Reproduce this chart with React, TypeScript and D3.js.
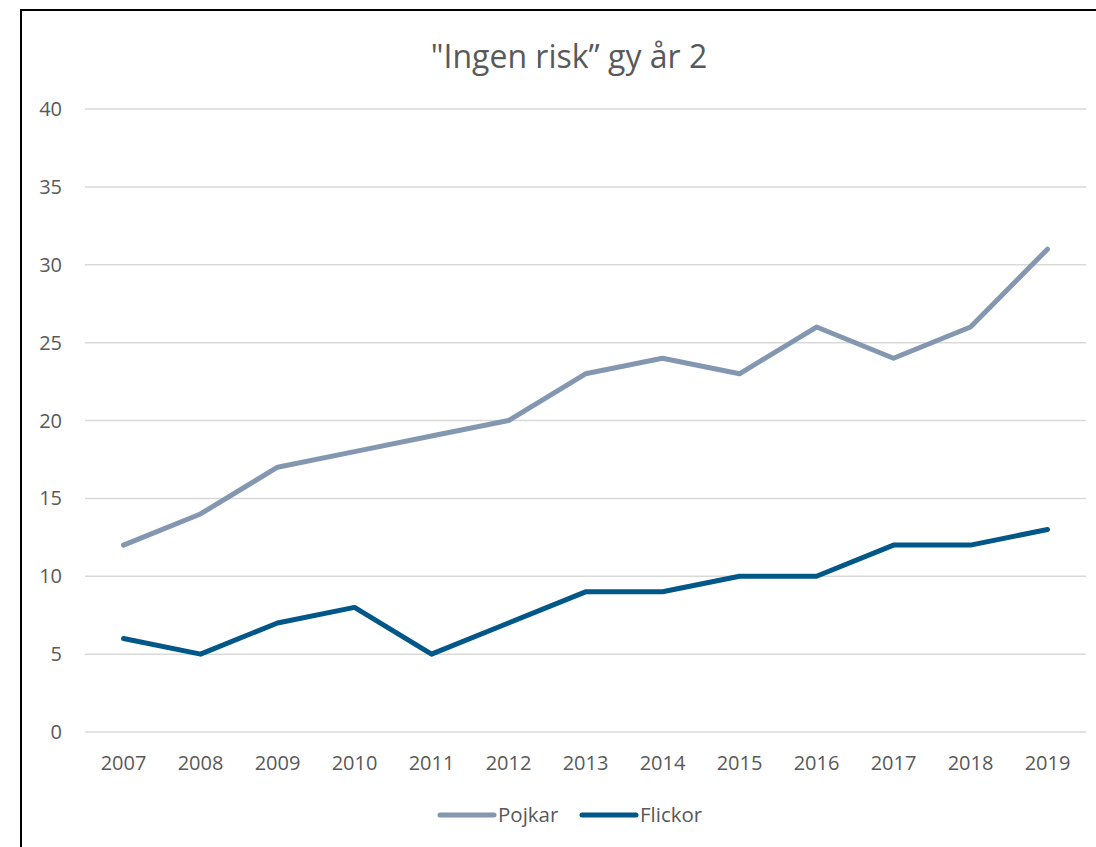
import React from "react";
import * as d3 from "d3";

const years = ["2007","2008","2009","2010","2011","2012","2013","2014","2015","2016","2017","2018","2019"];
const pojkar = [12,14,17,18,19,20,23,24,23,26,24,26,31];
const flickor = [6,5,7,8,5,7,9,9,10,10,12,12,13];
const yTicks = [0,5,10,15,20,25,30,35,40];
const seriesNames = ["Pojkar","Flickor"];
const seriesColors = ["#8497b0","#005788"];

const W = 1096, H = 847;
const left = 85, right = 1086, top = 109, bottom = 732;
const font = "'Open Sans', sans-serif";

export default function App() {
  const x = d3.scaleBand<string>().domain(years).range([left, right]);
  const y = d3.scaleLinear().domain([0, 40]).range([bottom, top]);
  const line = d3.line<number>()
    .x((_, i) => (x(years[i]) as number) + x.bandwidth() / 2)
    .y((d) => y(d));
  const series = [pojkar, flickor];
  const legendX = [440, 582];
  return (
    <svg width={W} height={H} style={{ position: "absolute", left: 0, top: 0, background: "#fff" }}>
      <rect x={21} y={10} width={1100} height={850} fill="#fff" stroke="#000" strokeWidth={2} />
      <text x={569} y={68} textAnchor="middle" fontFamily={font} fontSize={32} fill="#595959">"Ingen risk” gy år 2</text>
      {yTicks.map((t) => (
        <g key={t}>
          <line x1={left} x2={right} y1={y(t)} y2={y(t)} stroke="#d9d9d9" strokeWidth={1.5} />
          <text x={62} y={y(t) + 7} textAnchor="end" fontFamily={font} fontSize={20} fill="#595959">{t}</text>
        </g>
      ))}
      {years.map((yr) => (
        <text key={yr} x={(x(yr) as number) + x.bandwidth() / 2} y={770} textAnchor="middle" fontFamily={font} fontSize={20} fill="#595959">{yr}</text>
      ))}
      {series.map((s, i) => (
        <path key={i} d={line(s) || ""} fill="none" stroke={seriesColors[i]} strokeWidth={5} strokeLinecap="round" strokeLinejoin="round" />
      ))}
      {seriesNames.map((n, i) => (
        <g key={n}>
          <line x1={legendX[i]} x2={legendX[i] + 54} y1={815} y2={815} stroke={seriesColors[i]} strokeWidth={5} strokeLinecap="round" />
          <text x={legendX[i] + 58} y={822} fontFamily={font} fontSize={20.5} fill="#595959">{n}</text>
        </g>
      ))}
    </svg>
  );
}
